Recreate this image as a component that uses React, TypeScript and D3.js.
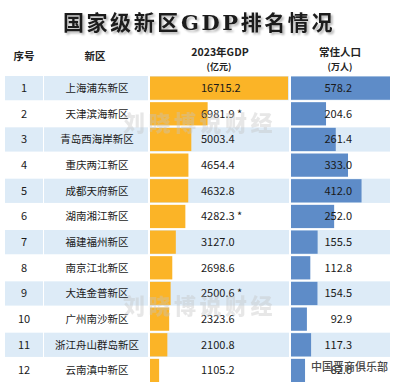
import React from "react";
import * as d3 from "d3";

const ranks = ["1", "2", "3", "4", "5", "6", "7", "8", "9", "10", "11", "12"];
const districts = [
  "上海浦东新区", "天津滨海新区", "青岛西海岸新区", "重庆两江新区", "成都天府新区", "湖南湘江新区",
  "福建福州新区", "南京江北新区", "大连金普新区", "广州南沙新区", "浙江舟山群岛新区", "云南滇中新区",
];
const gdp = [16715.2, 6981.9, 5003.4, 4654.4, 4632.8, 4282.3, 3127.0, 2698.6, 2500.6, 2323.6, 2100.8, 1105.2];
const gdpStar = [false, true, false, false, false, true, false, false, true, false, false, false];
const population = [578.2, 204.6, 261.4, 333.0, 412.0, 252.0, 155.5, 112.8, 154.5, 92.9, 117.3, 82.0];

const title = "国家级新区GDP排名情况";
const headers = ["序号", "新区", "2023年GDP", "常住人口"];
const subHeaders = ["(亿元)", "(万人)"];
const watermark = "刘晓博说财经";
const credit = "中国晋商俱乐部";

const W = 400;
const H = 382;
const FONT = "'Noto Sans CJK SC', 'Noto Sans', sans-serif";
const ORANGE = "#FBB427";
const BLUE = "#5E8CC8";
const BAND = "#DDEBF7";

const cols = [
  { x0: 5, x1: 43 },
  { x0: 44, x1: 148 },
  { x0: 150, x1: 289 },
  { x0: 291, x1: 390 },
];

export default function App() {
  const y = d3
    .scaleBand<number>()
    .domain(d3.range(ranks.length))
    .range([76, 76 + 25.55 * ranks.length])
    .paddingInner(0.055)
    .paddingOuter(0);
  const xG = d3.scaleLinear().domain([0, d3.max(gdp)!]).range([0, cols[2].x1 - cols[2].x0 - 1]);
  const xP = d3.scaleLinear().domain([0, d3.max(population)!]).range([0, cols[3].x1 - cols[3].x0]);
  const bw = y.bandwidth();

  return (
    <svg
      width={W}
      height={H}
      style={{ position: "absolute", left: 0, top: 0, background: "#fff" }}
      fontFamily={FONT}
    >
      <defs>
        <filter id="ts" x="-5%" y="-20%" width="110%" height="150%">
          <feGaussianBlur in="SourceAlpha" stdDeviation="0.8" />
          <feOffset dx="1.5" dy="2" result="b" />
          <feComponentTransfer>
            <feFuncA type="linear" slope="0.3" />
          </feComponentTransfer>
          <feMerge>
            <feMergeNode />
            <feMergeNode in="SourceGraphic" />
          </feMerge>
        </filter>
      </defs>
      <rect width={W} height={H} fill="#fff" />
      <text
        x={199}
        y={30}
        textAnchor="middle"
        fontSize={21}
        fontWeight={700}
        letterSpacing={2.6}
        fill="#1a1a1a"
        fontFamily="'DejaVu Serif', 'Noto Sans CJK SC', serif"
        filter="url(#ts)"
      >
        {title}
      </text>

      {/* headers */}
      <g fontWeight={700} fill="#222" textAnchor="middle">
        <text x={24} y={60} fontSize={10.5}>{headers[0]}</text>
        <text x={95} y={60} fontSize={10.5}>{headers[1]}</text>
        <text x={220} y={56} fontSize={10.5}>{headers[2]}</text>
        <text x={219} y={70} fontSize={9}>{subHeaders[0]}</text>
        <text x={340} y={56} fontSize={10.5}>{headers[3]}</text>
        <text x={340} y={70} fontSize={9}>{subHeaders[1]}</text>
      </g>

      {/* row bands */}
      {ranks.map((_, i) =>
        i % 2 === 0 ? (
          <g key={"band" + i}>
            {cols.map((c, j) => (
              <rect key={j} x={c.x0} y={y(i)!} width={c.x1 - c.x0} height={bw} fill={BAND} />
            ))}
          </g>
        ) : null
      )}

      {/* bars */}
      {gdp.map((v, i) => (
        <rect key={"g" + i} x={cols[2].x0} y={y(i)! + 0.5} width={xG(v)} height={bw - 1} fill={ORANGE} />
      ))}
      {population.map((v, i) => (
        <rect key={"p" + i} x={cols[3].x0} y={y(i)! + 0.5} width={xP(v)} height={bw - 1} fill={BLUE} />
      ))}

      {/* text */}
      <g fontSize={11} fill="#1a1a1a">
        {ranks.map((r, i) => (
          <text key={"r" + i} x={24} y={y(i)! + bw / 2 + 4} textAnchor="middle">{r}</text>
        ))}
        {districts.map((d, i) => (
          <text key={"d" + i} x={97} y={y(i)! + bw / 2 + 3.8} textAnchor="middle" fontSize={10.5}>{d}</text>
        ))}
        {gdp.map((v, i) => (
          <text key={"gt" + i} x={201} y={y(i)! + bw / 2 + 4}>
            {d3.format(".1f")(v) + (gdpStar[i] ? " *" : "")}
          </text>
        ))}
        {population.map((v, i) => (
          <text key={"pt" + i} x={352} y={y(i)! + bw / 2 + 4} textAnchor="end">
            {d3.format(".1f")(v)}
          </text>
        ))}
      </g>

      {/* watermarks */}
      <g fontSize={22} fontWeight={900} fill="#c4c4c4" opacity={0.4} letterSpacing={3.5}>
        <text x={123} y={131}>{watermark}</text>
        <text x={123} y={314}>{watermark}</text>
      </g>
      <text x={311} y={371} fontSize={11} fontWeight={500} fill="#4a4a4a">{credit}</text>
    </svg>
  );
}
